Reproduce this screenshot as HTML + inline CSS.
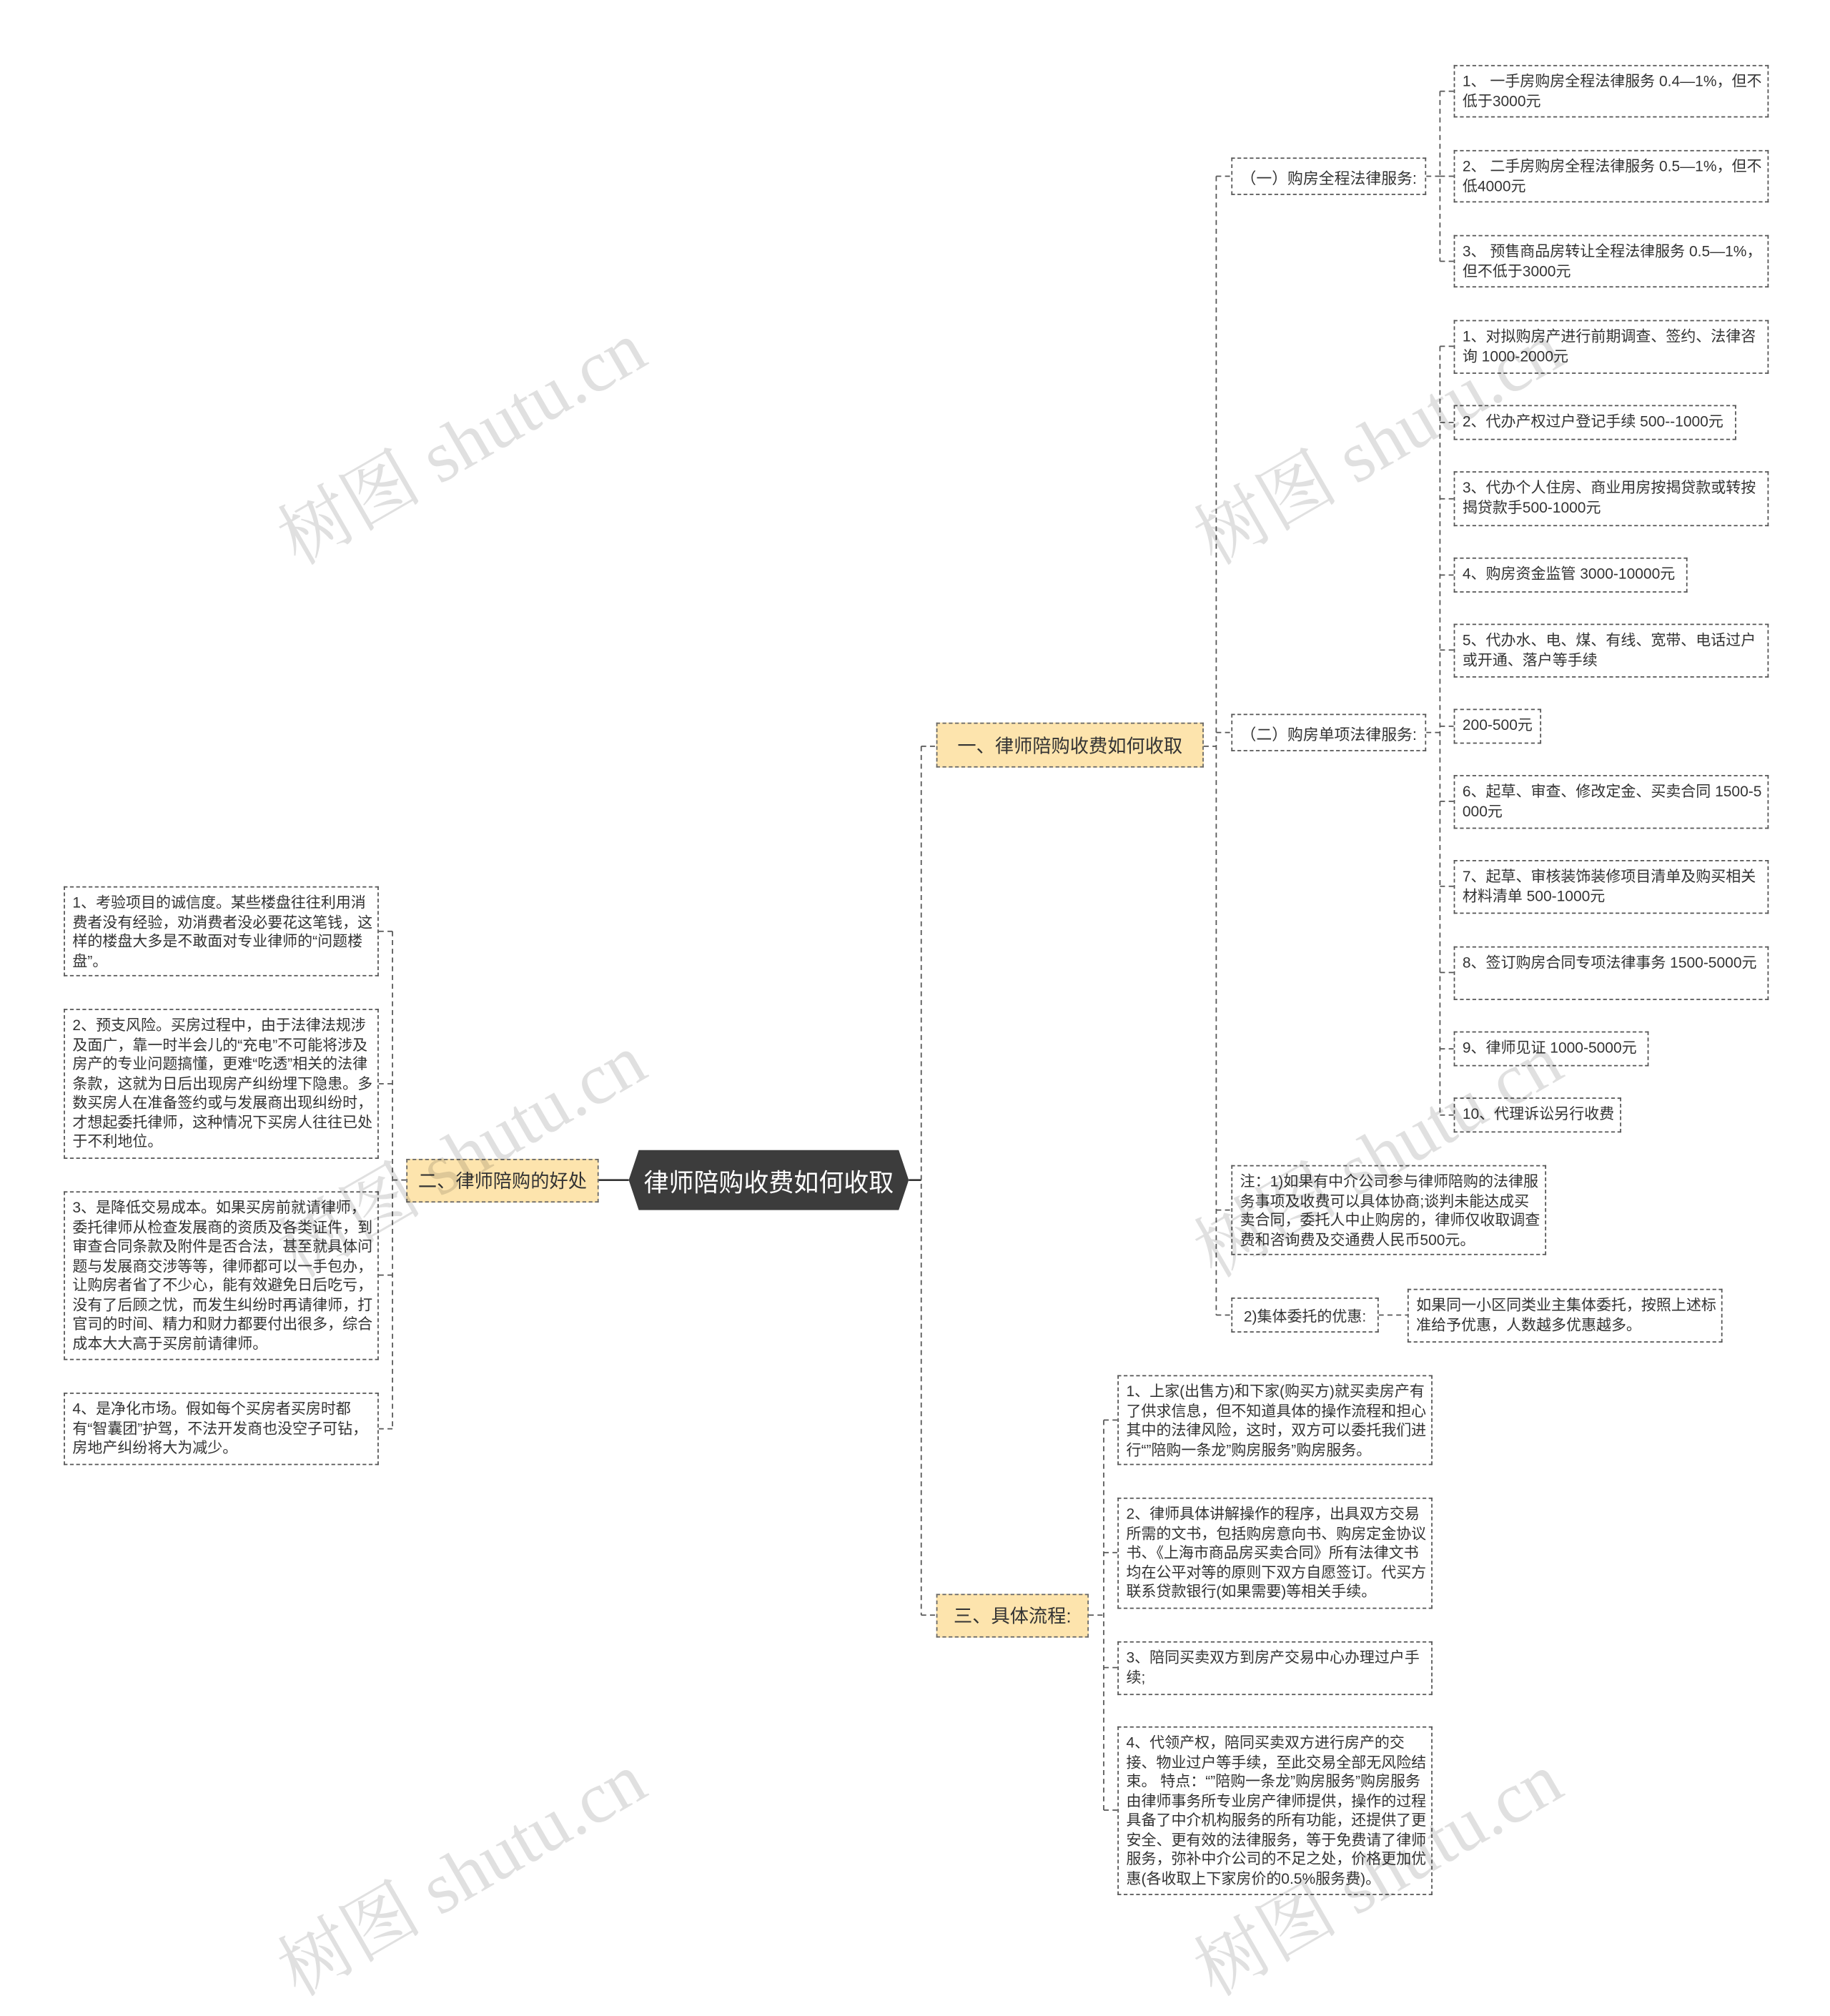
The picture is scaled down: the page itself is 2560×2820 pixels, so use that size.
<!DOCTYPE html>
<html><head><meta charset="utf-8">
<style>
html,body{margin:0;padding:0;background:#fff;}
body{width:2560px;height:2739px;overflow:hidden;position:relative;}
#s{position:absolute;left:0;top:0;width:1464px;height:1566px;transform:scale(1.7486);transform-origin:0 0;font-family:"Liberation Sans","Noto Sans CJK SC",sans-serif;color:#333;}
.b{position:absolute;box-sizing:border-box;border:1px dashed #555;background:#fff;font-size:12px;line-height:15.5px;padding:5px 3px 5px 6px;word-break:break-all;}
.s{position:absolute;box-sizing:border-box;border:1px dashed #555;background:#fff;font-size:12.5px;display:flex;align-items:center;justify-content:center;}
.y{position:absolute;box-sizing:border-box;border:1px dashed #666;background:#fde4ad;font-size:15px;display:flex;align-items:center;justify-content:center;}
.w{position:absolute;font-family:"Liberation Serif","Noto Serif CJK SC",serif;font-size:58px;color:rgba(0,0,0,0.12);transform:rotate(-30deg);transform-origin:0 0;white-space:nowrap;}
svg{position:absolute;left:0;top:0;}
</style></head><body><div id="s">
<svg width="1464" height="1566" fill="none" stroke="#555" stroke-width="1" stroke-dasharray="4,3">
<line x1="479" y1="944" x2="503" y2="944" stroke-dasharray="none" stroke="#333" stroke-width="1.5"/>
<line x1="727" y1="944" x2="737" y2="944" stroke-dasharray="none" stroke="#333" stroke-width="1.5"/>
<line x1="325" y1="944" x2="314" y2="944"/>
<line x1="314" y1="745" x2="314" y2="1143"/>
<line x1="314" y1="745" x2="303" y2="745"/>
<line x1="314" y1="867" x2="303" y2="867"/>
<line x1="314" y1="1020" x2="303" y2="1020"/>
<line x1="314" y1="1143" x2="303" y2="1143"/>
<line x1="737" y1="597" x2="737" y2="1292"/>
<line x1="737" y1="597" x2="749" y2="597"/>
<line x1="737" y1="1292" x2="749" y2="1292"/>
<line x1="963" y1="597" x2="973" y2="597"/>
<line x1="973" y1="141" x2="973" y2="1052"/>
<line x1="973" y1="141" x2="985" y2="141"/>
<line x1="973" y1="586" x2="985" y2="586"/>
<line x1="973" y1="968" x2="985" y2="968"/>
<line x1="973" y1="1052" x2="985" y2="1052"/>
<line x1="1103" y1="1052" x2="1126" y2="1052"/>
<line x1="1141" y1="141" x2="1152" y2="141"/>
<line x1="1152" y1="73" x2="1152" y2="209"/>
<line x1="1152" y1="73" x2="1163" y2="73"/>
<line x1="1152" y1="141" x2="1163" y2="141"/>
<line x1="1152" y1="209" x2="1163" y2="209"/>
<line x1="1141" y1="586" x2="1152" y2="586"/>
<line x1="1152" y1="277" x2="1152" y2="892"/>
<line x1="1152" y1="277" x2="1163" y2="277"/>
<line x1="1152" y1="338" x2="1163" y2="338"/>
<line x1="1152" y1="399" x2="1163" y2="399"/>
<line x1="1152" y1="460" x2="1163" y2="460"/>
<line x1="1152" y1="520" x2="1163" y2="520"/>
<line x1="1152" y1="581" x2="1163" y2="581"/>
<line x1="1152" y1="641" x2="1163" y2="641"/>
<line x1="1152" y1="709" x2="1163" y2="709"/>
<line x1="1152" y1="778" x2="1163" y2="778"/>
<line x1="1152" y1="839" x2="1163" y2="839"/>
<line x1="1152" y1="892" x2="1163" y2="892"/>
<line x1="871" y1="1292" x2="883" y2="1292"/>
<line x1="883" y1="1136" x2="883" y2="1448"/>
<line x1="883" y1="1136" x2="894" y2="1136"/>
<line x1="883" y1="1242" x2="894" y2="1242"/>
<line x1="883" y1="1334" x2="894" y2="1334"/>
<line x1="883" y1="1448" x2="894" y2="1448"/>
<polygon points="503,944 511,920 719,920 727,944 719,968 511,968" fill="#3c3c3c" stroke="none"/>
</svg>
<div style="position:absolute;left:503px;top:920px;width:224px;height:48px;display:flex;align-items:center;justify-content:center;color:#fff;font-size:20px;">律师陪购收费如何收取</div>

<div class="y" style="left:325px;top:927px;width:154px;height:35px;">二、律师陪购的好处</div>
<div class="y" style="left:749px;top:578px;width:214px;height:36px;">一、律师陪购收费如何收取</div>
<div class="y" style="left:749px;top:1275px;width:122px;height:35px;">三、具体流程:</div>

<div class="b" style="left:51px;top:709px;width:252px;height:72px;">1、考验项目的诚信度。某些楼盘往往利用消费者没有经验，劝消费者没必要花这笔钱，这样的楼盘大多是不敢面对专业律师的“问题楼盘”。</div>
<div class="b" style="left:51px;top:807px;width:252px;height:120px;">2、预支风险。买房过程中，由于法律法规涉及面广，靠一时半会儿的“充电”不可能将涉及房产的专业问题搞懂，更难“吃透”相关的法律条款，这就为日后出现房产纠纷埋下隐患。多数买房人在准备签约或与发展商出现纠纷时，才想起委托律师，这种情况下买房人往往已处于不利地位。</div>
<div class="b" style="left:51px;top:953px;width:252px;height:135px;">3、是降低交易成本。如果买房前就请律师，委托律师从检查发展商的资质及各类证件，到审查合同条款及附件是否合法，甚至就具体问题与发展商交涉等等，律师都可以一手包办，让购房者省了不少心，能有效避免日后吃亏，没有了后顾之忧，而发生纠纷时再请律师，打官司的时间、精力和财力都要付出很多，综合成本大大高于买房前请律师。</div>
<div class="b" style="left:51px;top:1114px;width:252px;height:58px;">4、是净化市场。假如每个买房者买房时都有“智囊团”护驾，不法开发商也没空子可钻，房地产纠纷将大为减少。</div>

<div class="s" style="left:985px;top:126px;width:156px;height:30px;">（一）购房全程法律服务:</div>
<div class="s" style="left:985px;top:571px;width:156px;height:30px;">（二）购房单项法律服务:</div>
<div class="b" style="left:985px;top:932px;width:252px;height:72px;">注：1)如果有中介公司参与律师陪购的法律服务事项及收费可以具体协商;谈判未能达成买卖合同，委托人中止购房的，律师仅收取调查费和咨询费及交通费人民币500元。</div>
<div class="s" style="left:985px;top:1038px;width:118px;height:28px;font-size:12px;">2)集体委托的优惠:</div>
<div class="b" style="left:1126px;top:1031px;width:252px;height:43px;">如果同一小区同类业主集体委托，按照上述标准给予优惠，人数越多优惠越多。</div>

<div class="b" style="left:1163px;top:52px;width:252px;height:42px;">1、 一手房购房全程法律服务 0.4—1%，但不低于3000元</div>
<div class="b" style="left:1163px;top:120px;width:252px;height:42px;">2、 二手房购房全程法律服务 0.5—1%，但不低4000元</div>
<div class="b" style="left:1163px;top:188px;width:252px;height:42px;">3、 预售商品房转让全程法律服务 0.5—1%，但不低于3000元</div>

<div class="b" style="left:1163px;top:256px;width:252px;height:43px;">1、对拟购房产进行前期调查、签约、法律咨询 1000-2000元</div>
<div class="b" style="left:1163px;top:324px;width:226px;height:28px;">2、代办产权过户登记手续 500--1000元</div>
<div class="b" style="left:1163px;top:377px;width:252px;height:44px;">3、代办个人住房、商业用房按揭贷款或转按揭贷款手500-1000元</div>
<div class="b" style="left:1163px;top:446px;width:187px;height:28px;">4、购房资金监管 3000-10000元</div>
<div class="b" style="left:1163px;top:499px;width:252px;height:43px;">5、代办水、电、煤、有线、宽带、电话过户或开通、落户等手续</div>
<div class="b" style="left:1163px;top:567px;width:70px;height:28px;">200-500元</div>
<div class="b" style="left:1163px;top:620px;width:252px;height:43px;">6、起草、审查、修改定金、买卖合同 1500-5000元</div>
<div class="b" style="left:1163px;top:688px;width:252px;height:43px;">7、起草、审核装饰装修项目清单及购买相关材料清单 500-1000元</div>
<div class="b" style="left:1163px;top:757px;width:252px;height:43px;">8、签订购房合同专项法律事务 1500-5000元</div>
<div class="b" style="left:1163px;top:825px;width:156px;height:28px;">9、律师见证 1000-5000元</div>
<div class="b" style="left:1163px;top:878px;width:134px;height:28px;">10、代理诉讼另行收费</div>

<div class="b" style="left:894px;top:1100px;width:252px;height:72px;">1、上家(出售方)和下家(购买方)就买卖房产有了供求信息，但不知道具体的操作流程和担心其中的法律风险，这时，双方可以委托我们进行“”陪购一条龙”购房服务”购房服务。</div>
<div class="b" style="left:894px;top:1198px;width:252px;height:89px;">2、律师具体讲解操作的程序，出具双方交易所需的文书，包括购房意向书、购房定金协议书、《上海市商品房买卖合同》所有法律文书均在公平对等的原则下双方自愿签订。代买方联系贷款银行(如果需要)等相关手续。</div>
<div class="b" style="left:894px;top:1313px;width:252px;height:43px;">3、陪同买卖双方到房产交易中心办理过户手续;</div>
<div class="b" style="left:894px;top:1381px;width:252px;height:135px;">4、代领产权，陪同买卖双方进行房产的交接、物业过户等手续，至此交易全部无风险结束。 特点：“”陪购一条龙”购房服务”购房服务由律师事务所专业房产律师提供，操作的过程具备了中介机构服务的所有功能，还提供了更安全、更有效的法律服务，等于免费请了律师服务，弥补中介公司的不足之处，价格更加优惠(各收取上下家房价的0.5%服务费)。</div>

<div class="w" style="left:205px;top:395px;">树图 shutu.cn</div>
<div class="w" style="left:938px;top:395px;">树图 shutu.cn</div>
<div class="w" style="left:205px;top:965px;">树图 shutu.cn</div>
<div class="w" style="left:938px;top:965px;">树图 shutu.cn</div>
<div class="w" style="left:205px;top:1540px;">树图 shutu.cn</div>
<div class="w" style="left:938px;top:1540px;">树图 shutu.cn</div>
</div></body></html>
